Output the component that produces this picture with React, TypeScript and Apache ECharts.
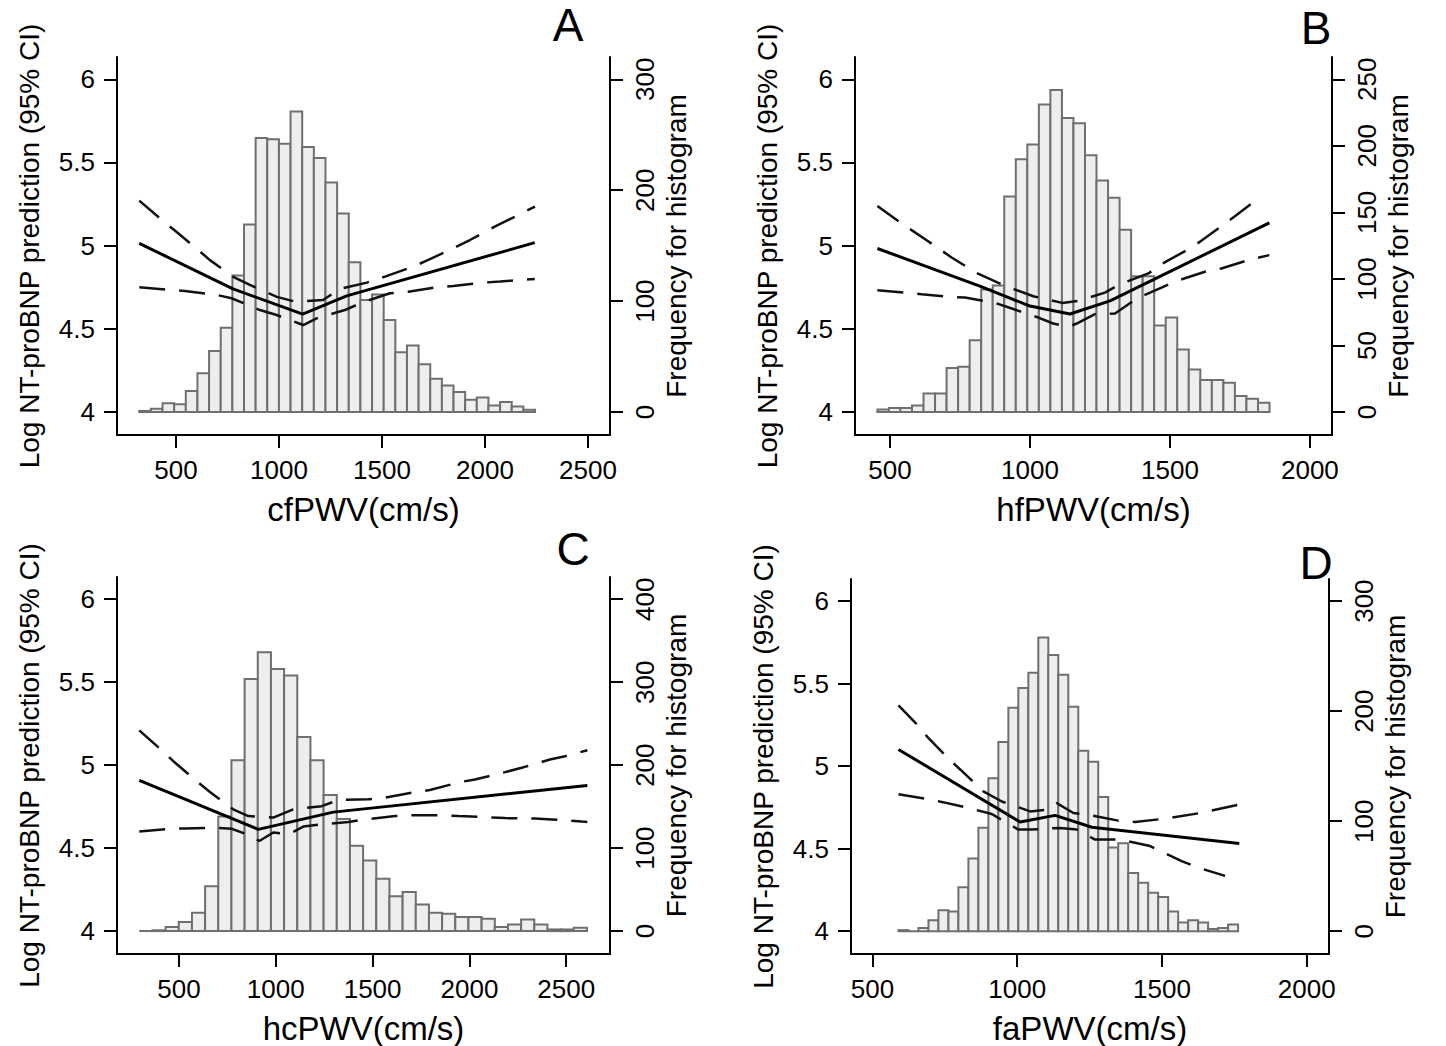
import React, { useEffect, useRef } from "react";
import * as echarts from "echarts";

const FONT = '"Liberation Sans", Arial, Helvetica, sans-serif';

// ---------- Panel A : cfPWV ----------
const aBinStart = 322;
const aBinWidth = 56.5;
const aFreq = [1, 3, 8, 7, 19, 35, 55, 76, 123, 169, 247, 246, 242, 271, 239, 229, 207, 179, 135, 101, 106, 83, 54, 60, 43, 30, 24, 18, 11, 13, 6, 9, 5, 2];
const aFit = [[322, 5.014], [777, 4.74], [1115, 4.589], [1329, 4.698], [2242, 5.018]];
const aUpper = [[322, 5.271], [431, 5.155], [495, 5.091], [608, 4.974], [665, 4.913], [778, 4.813], [859, 4.764], [990, 4.692], [1078, 4.664], [1214, 4.673], [1296, 4.74], [1427, 4.778], [1515, 4.814], [1652, 4.874], [1725, 4.914], [1846, 4.984], [1927, 5.034], [2057, 5.12], [2121, 5.159], [2243, 5.235]];
const aLower = [[322, 4.75], [471, 4.734], [544, 4.728], [698, 4.704], [770, 4.684], [908, 4.613], [989, 4.583], [1118, 4.523], [1183, 4.563], [1320, 4.613], [1401, 4.657], [1539, 4.714], [1628, 4.723], [1766, 4.75], [1846, 4.758], [1992, 4.778], [2073, 4.784], [2242, 4.8]];
const aXTicks = [500, 1000, 1500, 2000, 2500];
const aRightTicks = [0, 100, 200, 300];

// ---------- Panel B : hfPWV ----------
const bBinStart = 455;
const bBinWidth = 41.2;
const bFreq = [2, 3, 3, 5, 14, 14, 33, 34, 54, 92, 95, 162, 190, 201, 231, 242, 221, 217, 193, 174, 161, 137, 102, 102, 65, 71, 47, 32, 24, 24, 22, 12, 10, 7];
const bFit = [[455, 4.983], [821, 4.757], [1000, 4.637], [1143, 4.589], [1286, 4.668], [1855, 5.137]];
const bUpper = [[455, 5.238], [542, 5.133], [631, 5.033], [720, 4.929], [810, 4.836], [912, 4.758], [1012, 4.696], [1115, 4.656], [1173, 4.668], [1268, 4.718], [1321, 4.768], [1423, 4.833], [1470, 4.889], [1560, 4.973], [1607, 5.023], [1694, 5.129], [1738, 5.184], [1824, 5.294]];
const bLower = [[455, 4.732], [560, 4.716], [613, 4.708], [720, 4.692], [768, 4.688], [875, 4.656], [935, 4.622], [1030, 4.568], [1083, 4.532], [1137, 4.512], [1167, 4.532], [1232, 4.588], [1304, 4.592], [1381, 4.682], [1476, 4.752], [1524, 4.788], [1625, 4.843], [1684, 4.863], [1780, 4.913], [1855, 4.943]];
const bXTicks = [500, 1000, 1500, 2000];
const bRightTicks = [0, 50, 100, 150, 200, 250];

// ---------- Panel C : hcPWV ----------
const cBinStart = 295;
const cBinWidth = 68;
const cFreq = [0, 1, 5, 11, 22, 54, 138, 206, 304, 336, 316, 308, 234, 206, 164, 135, 103, 85, 63, 42, 47, 32, 22, 21, 17, 17, 15, 5, 8, 14, 8, 2, 2, 4];
const cFit = [[295, 4.908], [910, 4.613], [1297, 4.717], [2609, 4.878]];
const cUpper = [[295, 5.21], [411, 5.09], [471, 5.024], [591, 4.904], [660, 4.838], [780, 4.734], [858, 4.693], [987, 4.684], [1090, 4.734], [1237, 4.753], [1323, 4.79], [1478, 4.794], [1564, 4.804], [1719, 4.838], [1796, 4.85], [1951, 4.898], [2029, 4.914], [2184, 4.958], [2270, 4.984], [2416, 5.034], [2494, 5.054], [2609, 5.09]];
const cLower = [[295, 4.6], [454, 4.617], [531, 4.619], [695, 4.623], [772, 4.617], [850, 4.583], [915, 4.543], [987, 4.594], [1065, 4.583], [1142, 4.63], [1228, 4.643], [1375, 4.657], [1461, 4.673], [1616, 4.693], [1702, 4.698], [1857, 4.698], [1943, 4.693], [2098, 4.686], [2184, 4.681], [2339, 4.678], [2425, 4.673], [2580, 4.66], [2609, 4.658]];
const cXTicks = [500, 1000, 1500, 2000, 2500];
const cRightTicks = [0, 100, 200, 300, 400];

// ---------- Panel D : faPWV ----------
const dBinStart = 590;
const dBinWidth = 34.5;
const dFreq = [1, 0, 3, 10, 19, 18, 40, 66, 94, 139, 172, 203, 221, 235, 267, 251, 233, 204, 164, 154, 122, 76, 80, 53, 44, 35, 31, 18, 8, 10, 8, 2, 3, 6];
const dFit = [[590, 5.101], [1010, 4.662], [1131, 4.702], [1258, 4.63], [1767, 4.531]];
const dUpper = [[590, 5.368], [659, 5.244], [693, 5.171], [768, 5.037], [805, 4.977], [883, 4.847], [947, 4.786], [1045, 4.726], [1102, 4.736], [1137, 4.776], [1194, 4.716], [1246, 4.706], [1349, 4.67], [1407, 4.662], [1511, 4.682], [1632, 4.716], [1764, 4.766]];
const dLower = [[590, 4.83], [688, 4.802], [743, 4.782], [843, 4.742], [912, 4.71], [1004, 4.616], [1050, 4.616], [1148, 4.626], [1206, 4.616], [1269, 4.555], [1355, 4.555], [1459, 4.516], [1568, 4.425], [1626, 4.385], [1718, 4.335]];
const dXTicks = [500, 1000, 1500, 2000];
const dRightTicks = [0, 100, 200, 300];

const leftTicks = [4, 4.5, 5, 5.5, 6];
const leftMin = 3.862;
const leftMax = 6.134;
const leftName = "Log NT-proBNP prediction (95% CI)";
const rightName = "Frequency for histogram";

const panels = [
  { letter: "A", name: "cfPWV(cm/s)", grid: { left: 117, top: 57, width: 493, height: 378 }, xMin: 214, xMax: 2607, xTicks: aXTicks, scale: 150, rightTicks: aRightTicks, binStart: aBinStart, binWidth: aBinWidth, freq: aFreq, fit: aFit, upper: aUpper, lower: aLower, letterPos: [568, 25] },
  { letter: "B", name: "hfPWV(cm/s)", grid: { left: 855, top: 57, width: 477, height: 378 }, xMin: 375, xMax: 2079, xTicks: bXTicks, scale: 125, rightTicks: bRightTicks, binStart: bBinStart, binWidth: bBinWidth, freq: bFreq, fit: bFit, upper: bUpper, lower: bLower, letterPos: [1316, 28] },
  { letter: "C", name: "hcPWV(cm/s)", grid: { left: 117, top: 577, width: 493, height: 378 }, xMin: 180, xMax: 2726, xTicks: cXTicks, scale: 200, rightTicks: cRightTicks, binStart: cBinStart, binWidth: cBinWidth, freq: cFreq, fit: cFit, upper: cUpper, lower: cLower, letterPos: [573, 549] },
  { letter: "D", name: "faPWV(cm/s)", grid: { left: 851, top: 579, width: 478, height: 378 }, xMin: 426, xMax: 2077, xTicks: dXTicks, scale: 150, rightTicks: dRightTicks, binStart: dBinStart, binWidth: dBinWidth, freq: dFreq, fit: dFit, upper: dUpper, lower: dLower, letterPos: [1316, 563] },
];

function buildOption() {
  const grid: any[] = [];
  const xAxis: any[] = [];
  const yAxis: any[] = [];
  const series: any[] = [];
  const graphic: any[] = [];
  const axisLine = { show: true, onZero: false, lineStyle: { color: "#000", width: 2 } };
  const tickStyle = { color: "#000", width: 2 };

  panels.forEach((p, i) => {
    grid.push({ ...p.grid, containLabel: false });
    xAxis.push({
      type: "value", gridIndex: i, min: p.xMin, max: p.xMax,
      axisLine,
      axisTick: { show: true, length: 13, lineStyle: tickStyle, customValues: p.xTicks },
      axisLabel: { customValues: p.xTicks, formatter: (v: number) => String(v), fontSize: 26, color: "#000", fontFamily: FONT, margin: 22 },
      splitLine: { show: false },
      name: p.name, nameLocation: "middle", nameGap: 58,
      nameTextStyle: { fontSize: 33, color: "#000", fontFamily: FONT },
    });
    yAxis.push({
      type: "value", gridIndex: i, position: "left", min: leftMin, max: leftMax,
      axisLine,
      axisTick: { show: true, length: 13, lineStyle: tickStyle, customValues: leftTicks },
      axisLabel: { customValues: leftTicks, formatter: (v: number) => String(v), fontSize: 26, color: "#000", fontFamily: FONT, margin: 22 },
      splitLine: { show: false },
      name: leftName, nameLocation: "middle", nameGap: 74, nameRotate: 90,
      nameTextStyle: { fontSize: 28, color: "#000", fontFamily: FONT },
    });
    yAxis.push({
      type: "value", gridIndex: i, position: "right",
      min: (leftMin - 4) * p.scale, max: (leftMax - 4) * p.scale,
      axisLine,
      axisTick: { show: true, length: 13, lineStyle: tickStyle, customValues: p.rightTicks },
      axisLabel: { customValues: p.rightTicks, formatter: (v: number) => String(v), rotate: 90, fontSize: 26, color: "#000", fontFamily: FONT, margin: 22 },
      splitLine: { show: false },
      name: rightName, nameLocation: "middle", nameGap: 52, nameRotate: 90,
      nameTextStyle: { fontSize: 28, color: "#000", fontFamily: FONT },
    });
    const histData = p.freq.map((f, k) => [p.binStart + k * p.binWidth, p.binStart + (k + 1) * p.binWidth, f]);
    series.push({
      type: "custom", xAxisIndex: i, yAxisIndex: 2 * i + 1, data: histData, z: 1,
      encode: { x: [0, 1], y: 2 },
      renderItem: (params: any, api: any) => {
        const p0 = api.coord([api.value(0), 0]);
        const p1 = api.coord([api.value(1), api.value(2)]);
        return {
          type: "rect",
          shape: { x: p0[0], y: p1[1], width: p1[0] - p0[0], height: p0[1] - p1[1] },
          style: { fill: "#eeeeee", stroke: "#6f6f6f", lineWidth: 2 },
        };
      },
    });
    series.push({
      type: "line", xAxisIndex: i, yAxisIndex: 2 * i, data: p.fit, symbol: "none", z: 5,
      lineStyle: { color: "#000", width: 3 },
    });
    [p.upper, p.lower].forEach((d) => {
      series.push({
        type: "line", xAxisIndex: i, yAxisIndex: 2 * i, data: d, symbol: "none", z: 4,
        lineStyle: { color: "#111", width: 2.5, type: [26, 14] },
      });
    });
    graphic.push({
      type: "text", x: p.letterPos[0], y: p.letterPos[1],
      style: { text: p.letter, fontSize: 46, fontFamily: FONT, fill: "#000", align: "center", verticalAlign: "middle" },
    });
  });

  return { animation: false, backgroundColor: "#fff", grid, xAxis, yAxis, series, graphic };
}

export default function App() {
  const ref = useRef<HTMLDivElement>(null);
  useEffect(() => {
    if (!ref.current) return;
    const chart = echarts.init(ref.current, undefined, { renderer: "svg" });
    chart.setOption(buildOption() as any);
    return () => chart.dispose();
  }, []);
  return (
    <div
      ref={ref}
      style={{ position: "fixed", left: 0, top: 0, width: 1446, height: 1046, background: "#fff" }}
    />
  );
}
